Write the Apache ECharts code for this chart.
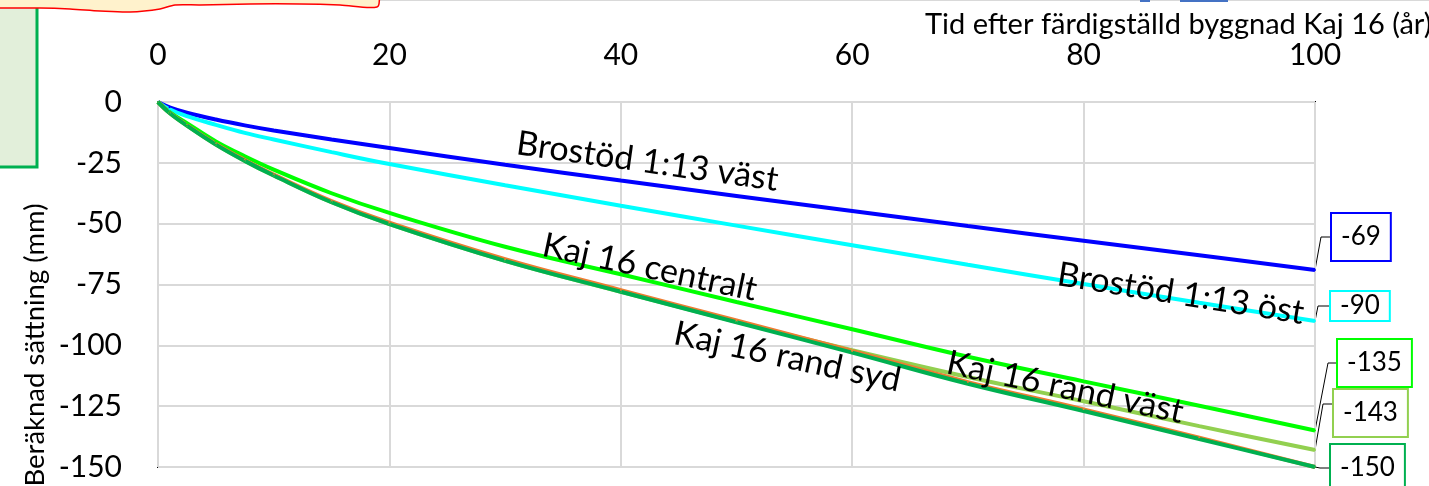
<!DOCTYPE html>
<html>
<head>
<meta charset="utf-8">
<title>Beräknad sättning</title>
<script src="https://cdn.jsdelivr.net/npm/echarts@6/dist/echarts.min.js"></script>
<style>
  html, body { margin: 0; padding: 0; background: #fff; }
  #chart { width: 1429px; height: 486px; }
</style>
</head>
<body>
<div id="chart"></div>
<script>
  // tid efter färdigställd byggnad (år)
  var years = [0, 1, 2.5, 5, 7.5, 10, 15, 20, 30, 40, 50, 60, 70, 80, 90, 100];

  // beräknad sättning (mm)
  var brostodVast = [0, -2.2, -4.4, -7.2, -9.6, -11.7, -15.4, -18.9, -25.8, -32.3, -38.6, -44.8, -51, -57, -63, -69];
  var brostodOst = [0, -3, -5.8, -9.4, -12.7, -15.4, -20.6, -25.5, -34.2, -42.6, -50.8, -58.9, -66.9, -74.8, -82.5, -90];
  var kajCentralt = [0, -4.2, -8.7, -16.2, -22.3, -27.8, -37.5, -45.6, -59.5, -70.8, -82.2, -93.4, -104.7, -114.8, -124.8, -135];
  var kajRandVast = [0, -4.5, -9.7, -17.5, -24.2, -30.2, -41.2, -50.2, -65.3, -78, -90.3, -102, -113, -123, -133.2, -143];
  var kajOrange = [0, -4.4, -9.5, -17.2, -23.8, -29.8, -40.7, -49.6, -64.6, -77.3, -89.8, -102.3, -115.1, -126.3, -138, -150];
  var kajRandSyd = [0, -4.5, -9.7, -17.5, -24.2, -30.2, -41.2, -50.2, -65.3, -78, -90.5, -103, -115.8, -127, -138.5, -150];

  // axlarnas skalstreck
  var xTicks = [0, 20, 40, 60, 80, 100];
  var yTicks = [-150, -125, -100, -75, -50, -25, 0];

  var FONT = 'Lato';

  // placering av slutetiketterna (pixlar)
  var endBoxes = {
    'Brostöd 1:13 väst': { left: 1332, cy: 237, knee: 11, pad: [9, 9] },
    'Brostöd 1:13 öst': { left: 1331, cy: 306, knee: 13, pad: [0, 9] },
    'Kaj 16 centralt': { left: 1338, cy: 363, knee: 10, pad: [9, 9] },
    'Kaj 16 rand väst': { left: 1334, cy: 413, lineY: 404, knee: 11, pad: [9, 9] },
    'Kaj 16 rand syd': { left: 1331, cy: 468, knee: 11, pad: [9, 9] }
  };

  // texter längs kurvorna (i dataenheter)
  var notes = {
    'Brostöd 1:13 väst': { coord: [42.3, -24.5], rotate: -8 },
    'Brostöd 1:13 öst': { coord: [88.4, -78.8], rotate: -9 },
    'Kaj 16 centralt': { coord: [42.5, -68], rotate: -12 },
    'Kaj 16 rand syd': { coord: [54.4, -104.8], rotate: -12 },
    'Kaj 16 rand väst': { coord: [78.4, -117.3], rotate: -12 }
  };

  var lineColors = {
    'Brostöd 1:13 väst': '#0000FF',
    'Brostöd 1:13 öst': '#00FFFF',
    'Kaj 16 centralt': '#00FF00',
    'Kaj 16 rand väst': '#92D050',
    'Kaj 16 orange': '#ED7D31',
    'Kaj 16 rand syd': '#00B050'
  };

  function makeSeries(name, values, withEnd) {
    var color = lineColors[name];
    var data = years.map(function (x, i) {
      var item = { value: [x, values[i]] };
      if (withEnd && i === years.length - 1) {
        item.label = { show: true };
      }
      return item;
    });
    var s = {
      name: name,
      type: 'line',
      smooth: 0.4,
      data: data,
      symbol: 'circle',
      symbolSize: 2,
      showSymbol: true,
      itemStyle: { color: color },
      lineStyle: { color: color, width: 4 },
      label: { show: false },
      emphasis: { disabled: true }
    };
    if (withEnd) {
      var b = endBoxes[name];
      s.label = {
        show: false,
        formatter: function (p) { return String(p.value[1]); },
        fontFamily: FONT,
        fontSize: 26,
        lineHeight: 28,
        color: '#000',
        backgroundColor: '#fff',
        borderColor: color,
        borderWidth: 2,
        padding: b.pad
      };
      s.labelLayout = function () {
        return { x: b.left, y: b.cy, align: 'left', verticalAlign: 'middle' };
      };
    }
    var n = notes[name];
    if (n) {
      s.markPoint = {
        symbol: 'rect',
        symbolSize: 1,
        itemStyle: { color: 'rgba(0,0,0,0)' },
        silent: true,
        data: [{ name: name, coord: n.coord }],
        label: {
          show: true,
          position: 'inside',
          formatter: '{b}',
          rotate: n.rotate,
          fontFamily: FONT,
          fontSize: 34,
          color: '#000'
        }
      };
    }
    return s;
  }

  var series = [
    makeSeries('Brostöd 1:13 väst', brostodVast, true),
    makeSeries('Brostöd 1:13 öst', brostodOst, true),
    makeSeries('Kaj 16 centralt', kajCentralt, true),
    makeSeries('Kaj 16 rand väst', kajRandVast, true),
    makeSeries('Kaj 16 orange', kajOrange, false),
    makeSeries('Kaj 16 rand syd', kajRandSyd, true)
  ];

  var graphics = [
    // bitar av andra figurer i kanten av bilden
    { type: 'line', shape: { x1: 373, y1: 0.5, x2: 1429, y2: 0.5 }, style: { stroke: '#D9D9D9', lineWidth: 1 } },
    { type: 'rect', shape: { x: 1140, y: 0, width: 10, height: 2 }, style: { fill: '#4472C4' } },
    { type: 'rect', shape: { x: 1180, y: 0, width: 48, height: 2 }, style: { fill: '#4472C4' } },
    {
      type: 'rect', shape: { x: -5, y: -5, width: 42, height: 172 },
      style: { fill: '#E2EFDA', stroke: '#00B050', lineWidth: 3 }, z: 10
    },
    {
      type: 'polygon', z: 11,
      shape: {
        points: [[-5, -5], [377, -5], [377, 7], [340, 5], [300, 4], [250, 4], [200, 5],
                 [175, 5], [160, 9], [130, 12], [100, 11], [70, 9], [40, 8], [0, 8], [-5, 8]],
        smooth: 0.3
      },
      style: { fill: '#FFF2CC', stroke: '#FF0000', lineWidth: 1.5 }
    },
    {
      type: 'text', x: 925, y: 25,
      style: {
        text: 'Tid efter färdigställd byggnad Kaj 16 (år)',
        font: '29px ' + FONT, fill: '#000', align: 'left', verticalAlign: 'middle'
      }
    },
    {
      type: 'text', x: 35, y: 345, rotation: Math.PI / 2,
      style: {
        text: 'Beräknad sättning (mm)',
        font: '27.5px ' + FONT, fill: '#000', align: 'center', verticalAlign: 'middle'
      }
    }
  ];

  var chart = echarts.init(document.getElementById('chart'));

  var option = {
    animation: false,
    backgroundColor: '#fff',
    grid: {
      left: 158, right: 114, top: 102, bottom: 19,
      show: true, borderColor: '#000', borderWidth: 2,
      containLabel: false
    },
    xAxis: {
      type: 'value',
      position: 'top',
      min: xTicks[0],
      max: xTicks[xTicks.length - 1],
      interval: xTicks[1] - xTicks[0],
      axisLine: { show: false },
      axisTick: { show: false },
      axisLabel: { fontFamily: FONT, fontSize: 30, color: '#000', margin: 32 },
      splitLine: { lineStyle: { color: '#D9D9D9', width: 2 } }
    },
    yAxis: {
      type: 'value',
      min: yTicks[0],
      max: yTicks[yTicks.length - 1],
      interval: yTicks[1] - yTicks[0],
      axisLine: { show: false },
      axisTick: { show: false },
      axisLabel: { fontFamily: FONT, fontSize: 30, color: '#000', margin: 36 },
      splitLine: { lineStyle: { color: '#D9D9D9', width: 2 } }
    },
    graphic: graphics,
    series: series
  };

  chart.setOption(option);

  // hänvisningslinjer från kurvornas slutpunkter till etikettrutorna
  var leaders = [];
  series.forEach(function (s) {
    var b = endBoxes[s.name];
    if (!b) return;
    var last = s.data[s.data.length - 1].value;
    var p = chart.convertToPixel({ gridIndex: 0 }, last);
    var ly = b.lineY != null ? b.lineY : b.cy;
    leaders.push({
      type: 'polyline',
      shape: { points: [[p[0], p[1]], [b.left - b.knee, ly], [b.left, ly]] },
      style: { stroke: '#000', lineWidth: 1, fill: null },
      silent: true
    });
  });
  chart.setOption({ graphic: graphics.concat(leaders) });
</script>
</body>
</html>
